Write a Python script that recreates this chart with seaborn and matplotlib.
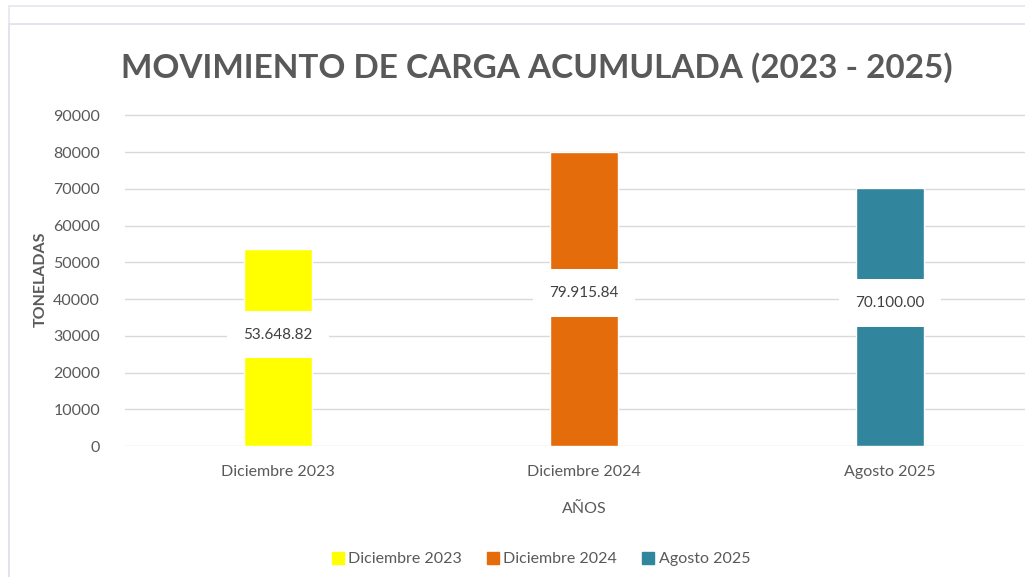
import matplotlib
matplotlib.use("Agg")
import matplotlib.pyplot as plt
from matplotlib.patches import Rectangle
from matplotlib.lines import Line2D
import pandas as pd
import seaborn as sns

# data
periodos = ["Diciembre 2023", "Diciembre 2024", "Agosto 2025"]
toneladas = [53648.82, 79915.84, 70100.00]
colores = ["#FFFF00", "#E46C0A", "#31859C"]
yticks = [0, 10000, 20000, 30000, 40000, 50000, 60000, 70000, 80000, 90000]

titulo = "MOVIMIENTO DE CARGA ACUMULADA (2023 - 2025)"
texto_gris = "#595959"
# where each data label sits along its bar (fraction of bar height)
pos_etiqueta = [0.565, 0.52, 0.555]

df = pd.DataFrame({"periodo": periodos, "toneladas": toneladas})

sns.set_theme(style="white")
plt.rcParams["font.family"] = ["Lato", "DejaVu Sans"]

fig = plt.figure(figsize=(10.25, 5.77), dpi=100)

# outer frame like the spreadsheet screenshot
fig.add_artist(Rectangle((9 / 1025, -0.1), 1.1, 1 - 24 / 577 + 0.1, transform=fig.transFigure,
                         fill=False, edgecolor="#dcdfe6", linewidth=1.2))
fig.add_artist(Rectangle((9 / 1025, 1 - 24 / 577), 1.1, 18 / 577, transform=fig.transFigure,
                         fill=False, edgecolor="#e3e6ee", linewidth=1.2))

ax = fig.add_axes([125 / 1025, 1 - 446 / 577, (1043 - 125) / 1025, 0.5795])

sns.barplot(data=df, x="periodo", y="toneladas", hue="periodo", palette=colores,
            width=0.22, saturation=1, legend=False, ax=ax)

ax.set_ylim(0, 91000)
ax.set_yticks(yticks)
ax.set_yticklabels([str(t) for t in yticks])
ax.yaxis.grid(True, color="#d9d9d9", linewidth=1)
ax.set_axisbelow(True)
for s in ax.spines.values():
    s.set_visible(False)
ax.tick_params(axis="both", length=0, labelsize=11.5, colors=texto_gris)
ax.tick_params(axis="y", pad=18)
ax.tick_params(axis="x", pad=14)

ax.set_xlabel("AÑOS", fontsize=11.5, color=texto_gris, labelpad=16)
ax.set_ylabel("TONELADAS", fontsize=11.5, color=texto_gris, fontweight="bold", labelpad=4)

# data labels in white boxes
for i, v in enumerate(toneladas):
    etiqueta = f"{v:,.2f}".replace(",", ".")
    ax.text(i, v * pos_etiqueta[i], etiqueta, ha="center", va="center", fontsize=11, color="#404040",
            bbox=dict(boxstyle="square,pad=1.1", facecolor="white", edgecolor="none"))

fig.text(537 / 1025, 1 - 68 / 577, titulo, ha="center", va="center",
         fontsize=24, fontweight="bold", color=texto_gris)

handles = [Line2D([0], [0], marker="s", linestyle="", markersize=9,
                  markerfacecolor=c, markeredgecolor=c) for c in colores]
fig.legend(handles, periodos, loc="center", bbox_to_anchor=(541 / 1025, 1 - 559 / 577),
           ncol=3, frameon=False, fontsize=11.5, handlelength=0.7, handletextpad=0.3,
           columnspacing=1.6, labelcolor=texto_gris)

fig.savefig("out.png", dpi=100)
